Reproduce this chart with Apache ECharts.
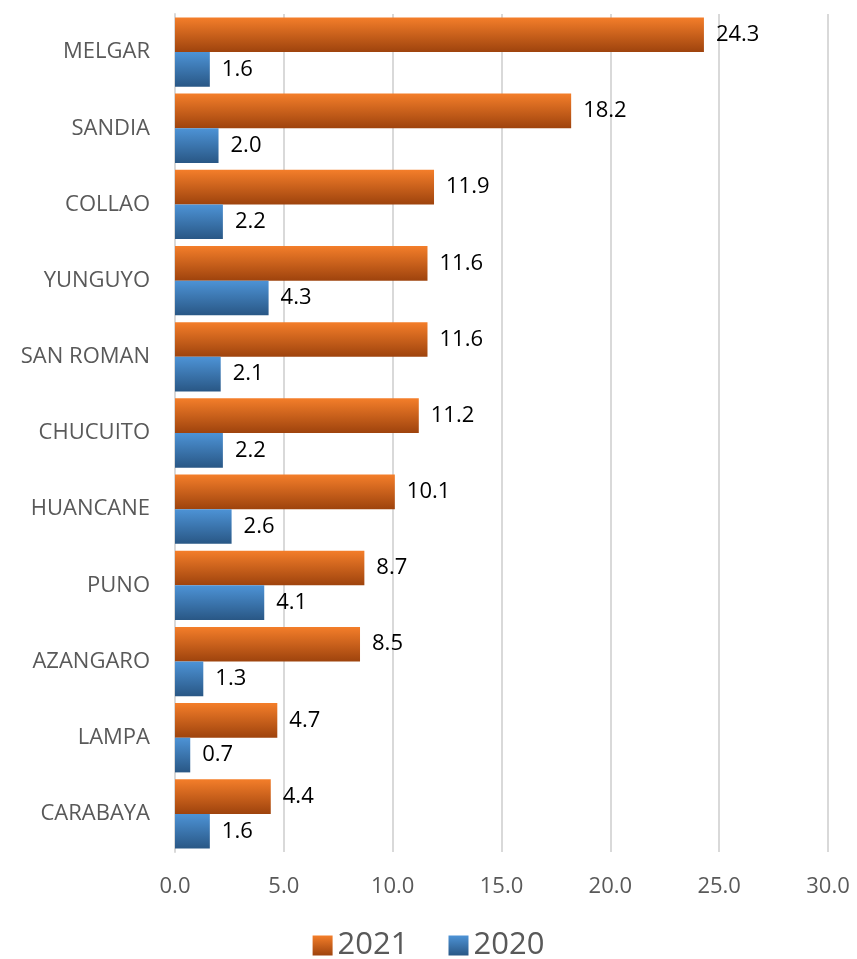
<!DOCTYPE html>
<html><head><meta charset="utf-8">
<script src="https://cdn.jsdelivr.net/npm/echarts@6/dist/echarts.min.js"></script>
<style>html,body{margin:0;padding:0;background:#fff}#c{width:857px;height:959px}</style>
</head><body><div id="c"></div>
<script>
const categories = ["MELGAR","SANDIA","COLLAO","YUNGUYO","SAN ROMAN","CHUCUITO","HUANCANE","PUNO","AZANGARO","LAMPA","CARABAYA"];
const values2021 = [24.3,18.2,11.9,11.6,11.6,11.2,10.1,8.7,8.5,4.7,4.4];
const values2020 = [1.6,2.0,2.2,4.3,2.1,2.2,2.6,4.1,1.3,0.7,1.6];
const xTicks = [0,5,10,15,20,25,30];

const font = "'Open Sans', sans-serif";
const grad = (a,b)=>new echarts.graphic.LinearGradient(0,0,0,1,[{offset:0,color:a},{offset:1,color:b}]);
const chart = echarts.init(document.getElementById('c'));
const lbl = {show:true,position:'right',distance:12,color:'#000',fontSize:22,fontFamily:font,formatter:p=>p.value.toFixed(1)};
chart.setOption({
  animation:false,
  grid:{left:175,right:29,top:14,bottom:107},
  legend:{top:925,left:'center',itemWidth:20,itemHeight:20,itemGap:40,icon:'rect',
    textStyle:{fontSize:31,color:'#595959',fontFamily:font},data:['2021','2020']},
  xAxis:{type:'value',min:xTicks[0],max:xTicks[xTicks.length-1],interval:5,
    axisLine:{show:false},axisTick:{show:false},
    splitLine:{lineStyle:{color:'#d9d9d9',width:2}},
    axisLabel:{fontSize:22,color:'#595959',fontFamily:font,margin:24,formatter:v=>v.toFixed(1)}},
  yAxis:{type:'category',data:categories,inverse:true,
    axisLine:{lineStyle:{color:'#d9d9d9',width:2}},axisTick:{show:false},
    axisLabel:{fontSize:22,color:'#595959',fontFamily:font,margin:25}},
  series:[
    {name:'2021',type:'bar',data:values2021,barGap:'0%',barCategoryGap:'9%',
      itemStyle:{color:grad('#f47e2a','#9e430d')},label:lbl},
    {name:'2020',type:'bar',data:values2020,barGap:'0%',barCategoryGap:'9%',
      itemStyle:{color:grad('#4d93d6','#295785')},label:lbl}
  ]
});
</script></body></html>
